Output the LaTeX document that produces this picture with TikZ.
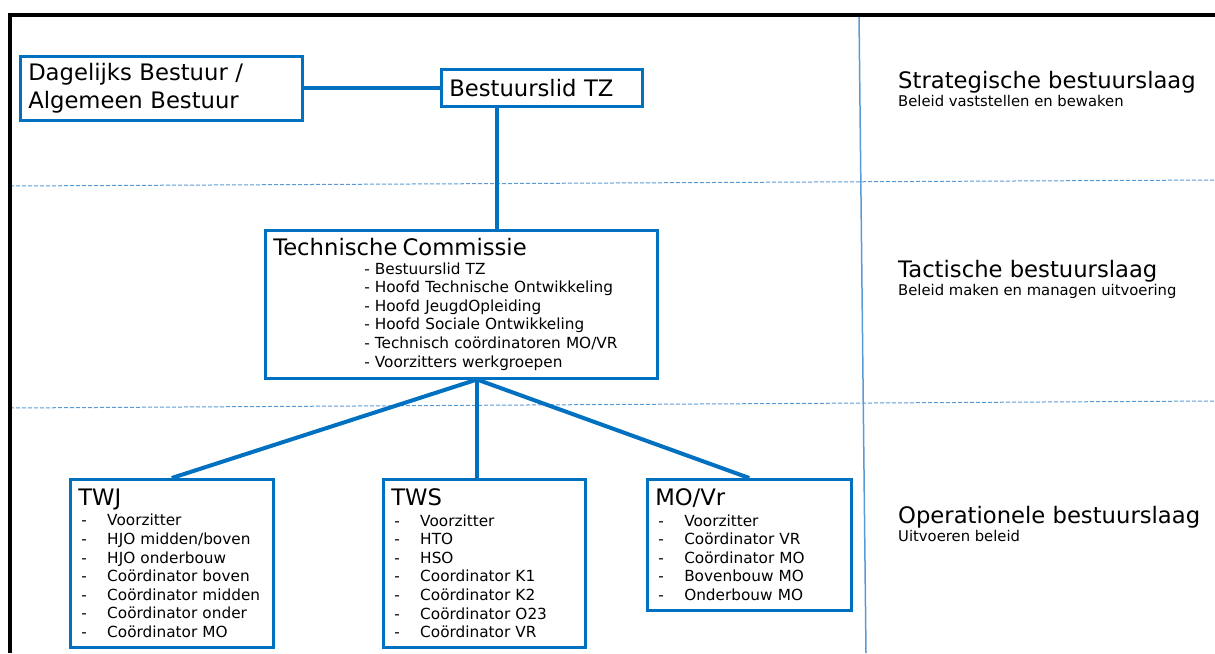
\documentclass[tikz,border=0pt]{standalone}
\usepackage{fontspec}
\setmainfont{DejaVu Sans}
\usetikzlibrary{calc}
\definecolor{tzblue}{RGB}{0,112,192}
\definecolor{tzlight}{RGB}{91,155,213}
\newcommand{\hdfont}{\fontsize{22.7}{28}\selectfont}
\newcommand{\lsfont}{\fontsize{15.3}{18.6}\selectfont}
\newcommand{\itm}[1]{\hspace*{3pt}\makebox[26pt][l]{-}#1}
\tikzset{
	orgbox/.style={draw=tzblue,line width=2.5pt,fill=white,align=left,inner xsep=8pt,inner ysep=0pt,anchor=north west},
	link/.style={draw=tzblue,line width=4pt},
	guide/.style={tzlight,line width=1pt,dash pattern=on 4pt off 2pt},
	layer/.style={anchor=base west,inner sep=0pt,font=\hdfont},
	layersub/.style={anchor=base west,inner sep=0pt,font=\fontsize{14.8}{17}\selectfont}
}
\begin{document}
\begin{tikzpicture}[x=1pt,y=-1pt,font=\lsfont]
	\def\ind{\hspace*{91pt}- }
	\useasboundingbox (0,0) rectangle (1215,653);
	\draw[guide] (10,186) -- (1215,180);
	\draw[guide] (10,408) -- (1215,401);
	\draw[tzlight,line width=1.5pt] (859,15) -- (866,653);
	\draw[line width=4pt,line join=miter] (10,653) -- (10,15) -- (1215,15);
	\node[orgbox,text width=266pt,minimum height=64pt,font=\hdfont] (dag) at (19,55) {Dagelijks Bestuur /\\Algemeen Bestuur};
	\node[orgbox,text width=185pt,minimum height=37pt,font=\hdfont] (bz) at (440,68) {Bestuurslid TZ};
	\node[orgbox,text width=376pt,minimum height=148pt] (tc) at (264,229) {{\hdfont Technische Commissie}\\
		\ind Bestuurslid TZ\\
		\ind Hoofd Technische Ontwikkeling\\
		\ind Hoofd JeugdOpleiding\\
		\ind Hoofd Sociale Ontwikkeling\\
		\ind Technisch coördinatoren MO/VR\\
		\ind Voorzitters werkgroepen};
	\node[orgbox,text width=187pt,minimum height=168pt] (twj) at (69,478) {{\hdfont TWJ}\\[2pt]
		\itm{Voorzitter}\\
		\itm{HJO midden/boven}\\
		\itm{HJO onderbouw}\\
		\itm{Coördinator boven}\\
		\itm{Coördinator midden}\\
		\itm{Coördinator onder}\\
		\itm{Coördinator MO}};
	\node[orgbox,text width=186pt,minimum height=168pt] (tws) at (382,478) {{\hdfont TWS}\\[2pt]
		\itm{Voorzitter}\\
		\itm{HTO}\\
		\itm{HSO}\\
		\itm{Coordinator K1}\\
		\itm{Coördinator K2}\\
		\itm{Coördinator O23}\\
		\itm{Coördinator VR}};
	\node[orgbox,text width=188pt,minimum height=131pt] (mo) at (646,478) {{\hdfont MO/Vr}\\[2pt]
		\itm{Voorzitter}\\
		\itm{Coördinator VR}\\
		\itm{Coördinator MO}\\
		\itm{Bovenbouw MO}\\
		\itm{Onderbouw MO}};
	\draw[link] (dag.east) -- (dag.east -| bz.west);
	\draw[link] (bz.south west) ++(57,0) coordinate (bzfoot) -- (bzfoot |- tc.north);
	\coordinate (split) at ($(tc.south west)+(213,0)$);
	\draw[link] (split) -- (twj.north);
	\draw[link] (split) -- (split |- tws.north);
	\draw[link] (split) -- (mo.north);
	\node[layer] (strat) at (898,88) {Strategische bestuurslaag};
	\node[layersub] (stratsub) at (898,106) {Beleid vaststellen en bewaken};
	\node[layer] (tact) at (898,277) {Tactische bestuurslaag};
	\node[layersub] (tactsub) at (898,295) {Beleid maken en managen uitvoering};
	\node[layer] (oper) at (898,523) {Operationele bestuurslaag};
	\node[layersub] (opersub) at (898,541) {Uitvoeren beleid};
\end{tikzpicture}
\end{document}
